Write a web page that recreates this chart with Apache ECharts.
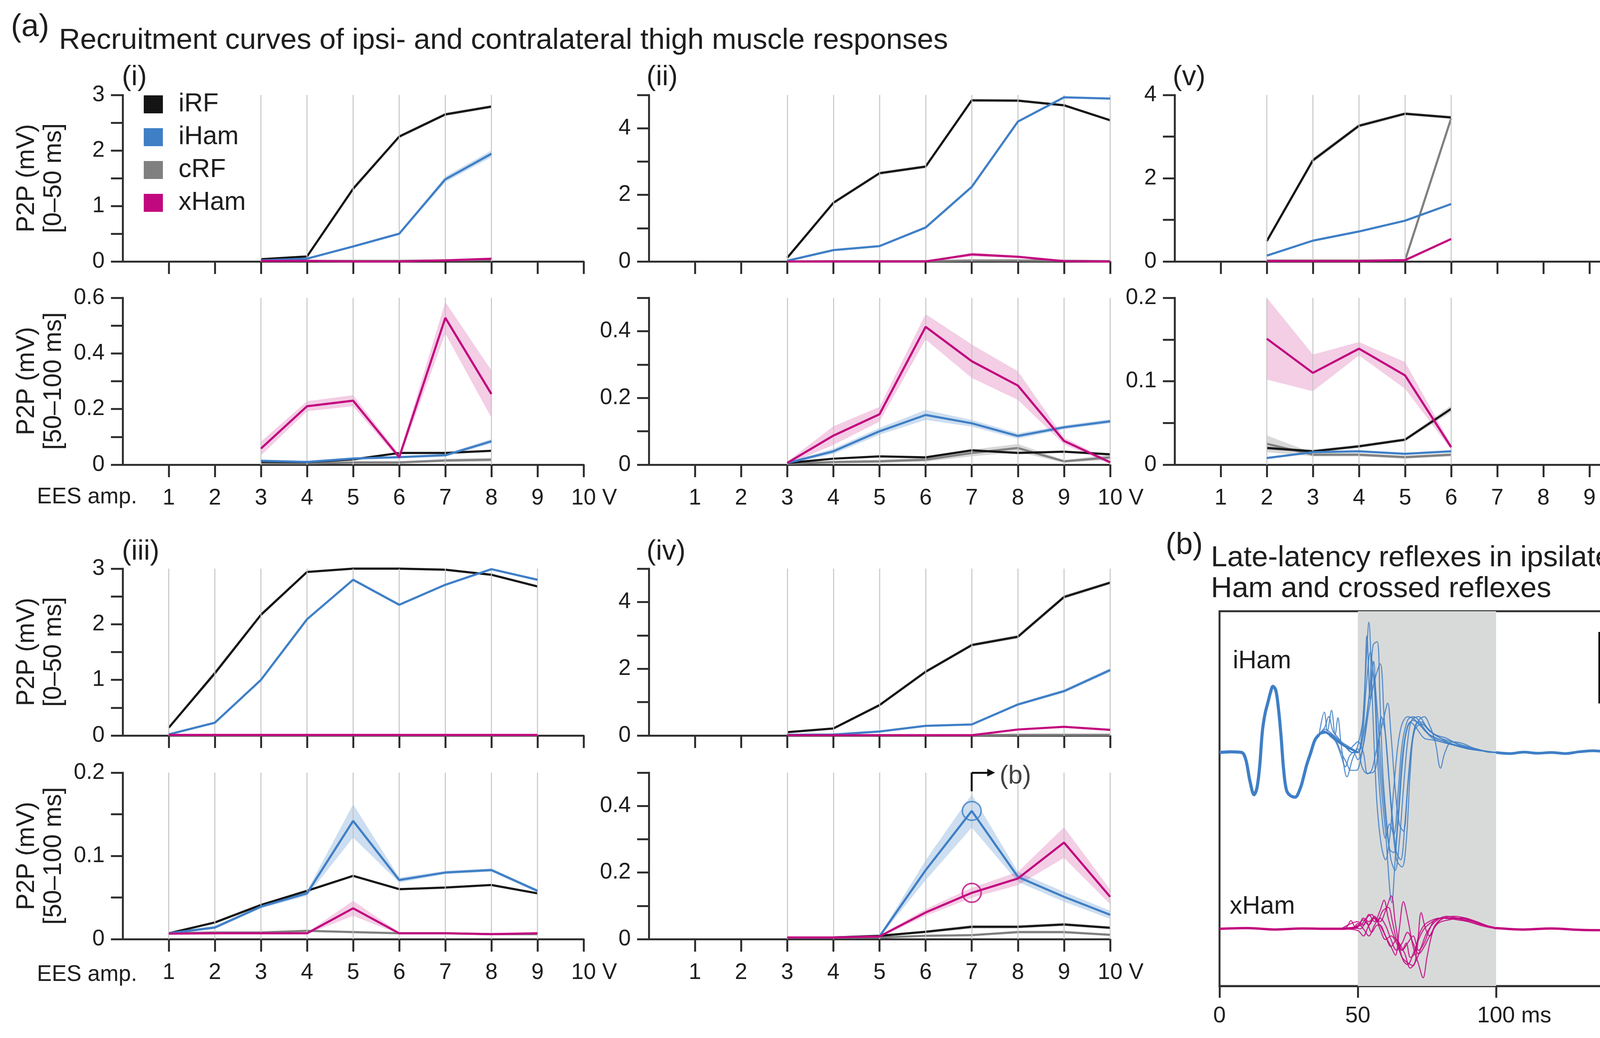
<!DOCTYPE html>
<html><head><meta charset="utf-8">
<script src="https://cdn.jsdelivr.net/npm/echarts@6/dist/echarts.min.js"></script>
<style>html,body{margin:0;padding:0;background:#fff;overflow:hidden}#c{width:4299px;height:2656px}</style>
</head><body><div id="c"></div>
<script>
// ---------------- DATA ----------------
const seriesNames = ['iRF','iHam','cRF','xHam'];
const xTickValues = [1,2,3,4,5,6,7,8,9,10];

// Panel (i)
const amp_i = [3,4,5,6,7,8];
const i_top_iRF  = [0.04,0.09,1.31,2.25,2.65,2.79];
const i_top_iHam = [0.02,0.05,0.27,0.50,1.48,1.94];
const i_top_cRF  = [0.01,0.01,0.01,0.01,0.02,0.03];
const i_top_xHam = [0.01,0.01,0.0,0.0,0.02,0.05];
const i_top_iRF_err  = [0.01,0.02,0.04,0.03,0.03,0.03];
const i_top_iHam_err = [0.01,0.01,0.02,0.02,0.05,0.06];
const i_bot_iRF  = [0.011,0.009,0.019,0.042,0.042,0.05];
const i_bot_iHam = [0.014,0.01,0.022,0.027,0.034,0.084];
const i_bot_cRF  = [0.005,0.005,0.008,0.008,0.015,0.018];
const i_bot_xHam = [0.058,0.21,0.23,0.027,0.528,0.254];
const i_bot_xHam_err = [0.025,0.018,0.02,0.01,0.057,0.085];
const i_bot_iHam_err = [0.004,0.003,0.004,0.004,0.005,0.008];
const i_bot_cRF_err  = [0.003,0.003,0.004,0.004,0.006,0.007];

// Panel (ii)
const amp_ii = [3,4,5,6,7,8,9,10];
const ii_top_iRF  = [0.11,1.76,2.65,2.85,4.84,4.83,4.69,4.24];
const ii_top_iHam = [0.02,0.34,0.46,1.02,2.24,4.20,4.93,4.89];
const ii_top_cRF  = [0.0,0.01,0.01,0.01,0.03,0.03,0.02,0.01];
const ii_top_xHam = [0.0,0.0,0.0,0.0,0.21,0.14,0.01,0.0];
const ii_top_xHam_err = [0,0,0,0,0.06,0.03,0.01,0];
const ii_top_iRF_err  = [0.02,0.05,0.05,0.05,0.04,0.04,0.04,0.04];
const ii_bot_iRF  = [0.005,0.018,0.025,0.022,0.043,0.035,0.039,0.031];
const ii_bot_iHam = [0.005,0.04,0.1,0.149,0.124,0.086,0.112,0.13];
const ii_bot_cRF  = [0.003,0.008,0.01,0.015,0.035,0.05,0.01,0.022];
const ii_bot_xHam = [0.005,0.087,0.151,0.413,0.31,0.237,0.071,0.007];
const ii_bot_xHam_err = [0.004,0.028,0.022,0.038,0.05,0.043,0.01,0.005];
const ii_bot_iHam_err = [0.003,0.008,0.01,0.015,0.01,0.008,0.006,0.006];
const ii_bot_cRF_err  = [0.002,0.004,0.005,0.006,0.01,0.012,0.004,0.008];

// Panel (v)
const amp_v = [2,3,4,5,6];
const v_top_iRF  = [0.49,2.43,3.26,3.55,3.46];
const v_top_iHam = [0.14,0.50,0.72,0.98,1.38];
const v_top_cRF  = [0.02,0.02,0.02,0.03,3.44];
const v_top_xHam = [0.01,0.01,0.01,0.03,0.54];
const v_top_iRF_err = [0.05,0.06,0.05,0.04,0.04];
const v_bot_iRF  = [0.02,0.016,0.022,0.030,0.067];
const v_bot_iHam = [0.008,0.015,0.016,0.013,0.016];
const v_bot_cRF  = [0.025,0.012,0.012,0.009,0.012];
const v_bot_xHam = [0.151,0.11,0.139,0.107,0.021];
const v_bot_xHam_err = [0.049,0.022,0.008,0.016,0.003];
const v_bot_cRF_err  = [0.01,0.002,0.002,0.002,0.002];
const v_bot_iRF_err  = [0.002,0.002,0.002,0.002,0.004];

// Panel (iii)
const amp_iii = [1,2,3,4,5,6,7,8,9];
const iii_top_iRF  = [0.14,1.12,2.17,2.94,3.0,3.0,2.98,2.89,2.68];
const iii_top_iHam = [0.02,0.23,1.0,2.09,2.80,2.35,2.71,2.99,2.80];
const iii_top_cRF  = [0.005,0.005,0.005,0.005,0.005,0.005,0.005,0.005,0.005];
const iii_top_xHam = [0.01,0.01,0.01,0.01,0.01,0.01,0.01,0.01,0.01];
const iii_top_iRF_err = [0.02,0.05,0.03,0.02,0.02,0.02,0.02,0.02,0.02];
const iii_bot_iRF  = [0.007,0.02,0.041,0.058,0.076,0.06,0.062,0.065,0.055];
const iii_bot_iHam = [0.007,0.014,0.039,0.055,0.142,0.071,0.08,0.083,0.058];
const iii_bot_cRF  = [0.007,0.008,0.008,0.01,0.0085,0.007,0.007,0.006,0.006];
const iii_bot_xHam = [0.0066,0.007,0.007,0.007,0.037,0.007,0.007,0.006,0.007];
const iii_bot_iHam_err = [0.001,0.002,0.002,0.003,0.02,0.003,0.002,0.002,0.002];
const iii_bot_xHam_err = [0.001,0.001,0.001,0.001,0.009,0.001,0.001,0.001,0.001];

// Panel (iv)
const amp_iv = [3,4,5,6,7,8,9,10];
const iv_top_iRF  = [0.1,0.21,0.91,1.91,2.71,2.96,4.15,4.58];
const iv_top_iHam = [0.02,0.03,0.12,0.29,0.33,0.93,1.33,1.96];
const iv_top_cRF  = [0.01,0.01,0.01,0.01,0.01,0.02,0.02,0.02];
const iv_top_xHam = [0.01,0.01,0.01,0.01,0.01,0.18,0.26,0.17];
const iv_top_iRF_err  = [0.02,0.03,0.04,0.05,0.05,0.06,0.06,0.05];
const iv_top_iHam_err = [0.01,0.01,0.02,0.02,0.02,0.04,0.05,0.06];
const iv_bot_iRF  = [0.005,0.005,0.01,0.022,0.037,0.037,0.044,0.034];
const iv_bot_iHam = [0.005,0.005,0.008,0.207,0.385,0.187,0.127,0.073];
const iv_bot_cRF  = [0.004,0.004,0.005,0.01,0.012,0.021,0.021,0.013];
const iv_bot_xHam = [0.005,0.005,0.008,0.08,0.139,0.182,0.29,0.127];
const iv_bot_iHam_err = [0.002,0.002,0.003,0.03,0.05,0.015,0.015,0.012];
const iv_bot_xHam_err = [0.002,0.002,0.003,0.01,0.015,0.02,0.046,0.022];
const iv_bot_iRF_err  = [0.001,0.001,0.002,0.004,0.006,0.005,0.005,0.004];
const iv_bot_cRF_err  = [0.001,0.001,0.001,0.002,0.003,0.004,0.004,0.003];
const highlightAmp = 7;

// Y-axis ranges and tick labels per grid (i top, i bottom, ii top, ii bottom, v top, v bottom, iii top, iii bottom, iv top, iv bottom)
const yMax       = [3, 0.6, 5, 0.5, 4, 0.2, 3, 0.2, 5, 0.5];
const yInterval  = [0.5, 0.1, 1, 0.1, 1, 0.05, 0.5, 0.05, 1, 0.1];
const yTickLabels = [[0,1,2,3],[0,0.2,0.4,0.6],[0,2,4],[0,0.2,0.4],[0,2,4],[0,0.1,0.2],[0,1,2,3],[0,0.1,0.2],[0,2,4],[0,0.2,0.4]];

// Panel (b): single-trial traces, [time ms, mV]
const traceTicks = [0,50,100];
const windowMs = [50,100];
const iHamEarly = [[0,0],[4,0.002],[8,0.0],[9.5,-0.02],[11,-0.08],[12.5,-0.118],[13.5,-0.1],[14.5,-0.04],[15.5,0.06],[16.5,0.11],[17.5,0.14],[18.5,0.17],[19.3,0.185],[20.3,0.175],[21.2,0.13],[22.2,0.05],[23.2,-0.05],[24.2,-0.105],[25.5,-0.12],[27.3,-0.125],[29.2,-0.1],[30.5,-0.065],[31.5,-0.035],[33,0.0],[34.5,0.035],[36,0.05]];
const iHamMid = [[36,0.05],[37.5,0.058],[40,0.05],[43,0.03],[46,0.015],[48,0.008],[50,0.0]];
const iHamLateA = [[36,0.05],[37.5,0.058],[40,0.05],[43,0.03],[46,0.015],[48,0.01],[50,0.0],[51.5,0.06],[53,0.25],[54,0.364],[55,0.2],[56,0.0],[57,-0.15],[58.5,-0.26],[60,-0.3],[61.5,-0.24],[63,-0.1],[64.5,0.02],[66,0.08],[68,0.1],[70,0.095],[72,0.08],[75,0.055],[78,0.04],[82,0.03],[86,0.02],[90,0.012],[95,0.005],[100,0.0]];
const iHamLateB = [[36,0.05],[37.9,0.113],[39,0.06],[40.5,0.118],[41.8,0.05],[42.8,0.097],[44,0.02],[46.1,-0.068],[48,-0.02],[50,0.02],[52,0.1],[53.3,0.326],[54.5,0.15],[55.7,0.255],[57,0.05],[58.5,-0.1],[60,-0.22],[62.3,-0.42],[63.5,-0.3],[65,-0.15],[66.5,0.0],[68,0.07],[70,0.09],[73,0.075],[76,0.05],[80,0.035],[85,0.02],[90,0.012],[96,0.004],[100,0.0]];
const iHamLateC = [[36,0.05],[38,0.06],[40,0.045],[42,0.03],[44,-0.01],[45.5,-0.04],[47,-0.01],[48.5,0.0],[50,-0.02],[52,0.02],[54,0.12],[56,0.2],[58.1,0.248],[59.5,0.1],[61,-0.05],[62.5,-0.18],[64,-0.28],[65.5,-0.3],[67,-0.2],[68.5,-0.05],[70,0.05],[72,0.09],[74,0.1],[76,0.075],[78,0.03],[79.9,-0.044],[81.5,0.0],[84,0.03],[88,0.025],[92,0.012],[97,0.003],[100,0.0]];
const iHamLateD = [[36,0.05],[38,0.07],[39.5,0.1],[41,0.06],[43,0.04],[45,0.02],[47,0.01],[48.5,0.02],[50,0.03],[52,0.0],[53.5,-0.06],[55,-0.05],[56.5,0.0],[58,0.05],[59.5,0.1],[60.8,0.138],[62,0.05],[63.5,-0.1],[65,-0.2],[66.5,-0.22],[68,-0.1],[69.5,0.02],[71,0.08],[73,0.085],[76,0.06],[80,0.04],[84,0.03],[88,0.02],[93,0.01],[98,0.0],[100,0.0]];
const iHamLateE = [[36,0.05],[38,0.055],[40,0.05],[42,0.035],[44,0.0],[46,-0.03],[47.5,-0.05],[49.5,-0.05],[51,-0.02],[52.5,0.05],[54,0.15],[55.5,0.22],[57,0.12],[58.5,-0.05],[60,-0.18],[61.5,-0.27],[63,-0.28],[64.5,-0.18],[66,-0.02],[67.5,0.06],[69,0.085],[71,0.07],[74,0.04],[77,0.035],[80,0.03],[85,0.02],[90,0.01],[95,0.005],[100,0.0]];
const iHamLateF = [[36,0.05],[38,0.058],[40,0.052],[43,0.032],[46,0.012],[48,0.0],[50,0.0],[51.5,0.03],[53,0.18],[54.5,0.28],[56,0.18],[57,0.0],[58.5,-0.16],[60,-0.24],[61.5,-0.2],[63,-0.23],[64.5,-0.12],[66,0.02],[68,0.09],[70,0.1],[72,0.09],[74.5,0.06],[77,0.04],[80,0.03],[85,0.02],[90,0.01],[100,0.0]];
const iHamLateG = [[36,0.05],[39,0.055],[42,0.04],[45,0.02],[48,0.0],[50,0.01],[51.5,-0.04],[53.3,-0.058],[55.7,-0.055],[57,-0.02],[58.5,0.1],[60,0.05],[62,-0.15],[64,-0.3],[66,-0.32],[67.5,-0.25],[69,-0.05],[70.5,0.06],[73,0.08],[76,0.06],[80,0.04],[85,0.02],[92,0.008],[100,0.0]];
const iHamLateH = [[36,0.05],[38,0.065],[41,0.05],[44,0.03],[46,0.02],[48,0.01],[50,0.0],[52,0.05],[54,0.15],[55.5,0.3],[57,0.31],[58,0.15],[59,-0.05],[60.5,-0.2],[62,-0.3],[63.5,-0.33],[65,-0.25],[66.5,-0.1],[68,0.03],[69.5,0.09],[72,0.1],[75,0.07],[78,0.05],[82,0.04],[87,0.02],[93,0.008],[100,0.0]];
const iHamTail = [[100,0.0],[105,-0.003],[110,0.001],[115,-0.002],[120,0.0],[125,-0.003],[130,0.002],[135,0.005],[140,0.002],[145,-0.002],[150,0.001]];
const xHamEarly = [[0,0.0],[10,0.002],[20,-0.002],[30,0.001],[40,0.0],[44,0.0],[48,0.002],[50,0.004]];
const xHamLate1 = [[44,0],[47,0.0],[50,0.01],[52,0.025],[54,0.01],[56,0.03],[58,0.02],[60,0.05],[62.1,0.092],[63.5,0.02],[65,-0.05],[66.5,-0.09],[68,-0.1],[70,-0.07],[72,-0.03],[74,0.0],[77,0.02],[80,0.03],[84,0.03],[88,0.025],[92,0.02],[96,0.01],[100,0.003]];
const xHamLate2 = [[44,0],[46,0.005],[47.5,0.023],[49,0.005],[51,0.0],[53,0.02],[55,-0.01],[57,0.01],[58,0.01],[60,-0.02],[62,-0.05],[63.6,-0.074],[65,0.0],[66.5,0.076],[68,0.03],[70,-0.05],[72,-0.1],[73.6,-0.137],[75,-0.08],[77,-0.01],[79,0.02],[82,0.03],[86,0.03],[90,0.025],[94,0.015],[98,0.005],[100,0.0]];
const xHamLate3 = [[44,0],[50,0.005],[52,0.03],[54,0.02],[56,0.035],[58,0.0],[60,-0.03],[62,-0.02],[64,-0.04],[66,-0.08],[68,-0.095],[70,-0.103],[71.5,-0.05],[72.9,0.045],[74.5,0.0],[76,-0.02],[78,0.01],[81,0.03],[85,0.035],[89,0.03],[93,0.02],[97,0.008],[100,0.0]];
const xHamLate4 = [[44,0],[50,-0.005],[52,-0.02],[54,0.01],[56,0.03],[58,0.01],[60,-0.02],[62,-0.05],[64,-0.03],[66,-0.06],[68,-0.04],[70,-0.02],[72,-0.06],[74,-0.04],[76,0.0],[78,0.025],[82,0.03],[86,0.025],[90,0.02],[95,0.01],[100,0.002]];
const xHamLate5 = [[44,0],[51,0.01],[53,0.03],[55,0.04],[57,0.02],[59,0.05],[61,0.06],[62.5,0.02],[64,-0.03],[66,-0.06],[67.5,-0.04],[69,-0.08],[70.5,-0.07],[72,-0.02],[74,0.01],[77,0.025],[80,0.03],[84,0.028],[88,0.03],[92,0.02],[96,0.01],[100,0.002]];
const xHamLate6 = [[44,0],[50,0.02],[52,0.01],[54,0.04],[56,0.02],[58,0.05],[59.5,0.08],[61,0.03],[63,-0.02],[65,-0.04],[67,-0.07],[69,-0.11],[71,-0.09],[73,-0.05],[75,-0.01],[78,0.02],[82,0.035],[86,0.03],[90,0.02],[95,0.008],[100,0.0]];
const xHamLate7 = [[44,0],[48,0.0],[50,0.015],[52,0.0],[54,-0.02],[56,0.01],[58,0.03],[60,0.01],[62,-0.03],[64,-0.06],[66,-0.04],[68,-0.01],[70,-0.04],[72,-0.07],[74,-0.05],[76,-0.02],[79,0.015],[83,0.025],[88,0.03],[92,0.02],[97,0.008],[101,0.0]];
const xHamTail = [[100,0.002],[110,-0.002],[120,0.001],[130,-0.003],[140,-0.004],[150,-0.002]];
const scaleBar = {t: 137.3, from: 0.137, len: 0.2};

// ---------------- STYLE ----------------
const FONT = "'Liberation Sans', Arial, Helvetica, sans-serif";
const C = {iRF:'#141414', iHam:'#3f7fc6', cRF:'#808080', xHam:'#c2087f'};
const BAND = {iRF:'rgba(0,0,0,0.14)', iHam:'rgba(63,127,198,0.26)', cRF:'rgba(128,128,128,0.3)', xHam:'rgba(194,8,127,0.2)'};
const AX = '#303030', TXT = '#1e1e1e';
const xHamOffset = -0.493;
const yRangeB = [-0.653, 0.395];

const GRIDS = [
  {left:314, top:243, width:1180, height:426},
  {left:314, top:762, width:1180, height:427},
  {left:1661, top:243, width:1181, height:426},
  {left:1661, top:762, width:1181, height:427},
  {left:3007, top:243, width:1180, height:426},
  {left:3007, top:762, width:1180, height:427},
  {left:314, top:1455, width:1180, height:427},
  {left:314, top:1977, width:1180, height:426},
  {left:1661, top:1455, width:1181, height:427},
  {left:1661, top:1977, width:1181, height:426},
  {left:3122, top:1564, width:1062, height:959, show:true, borderColor:AX, borderWidth:5}
];

const PANELS = [
  {g:0, xs:amp_i, d:{cRF:i_top_cRF, iRF:i_top_iRF, iHam:i_top_iHam, xHam:i_top_xHam}, e:{iRF:i_top_iRF_err, iHam:i_top_iHam_err}},
  {g:1, xs:amp_i, d:{cRF:i_bot_cRF, iRF:i_bot_iRF, iHam:i_bot_iHam, xHam:i_bot_xHam}, e:{cRF:i_bot_cRF_err, iHam:i_bot_iHam_err, xHam:i_bot_xHam_err}},
  {g:2, xs:amp_ii, d:{cRF:ii_top_cRF, iRF:ii_top_iRF, iHam:ii_top_iHam, xHam:ii_top_xHam}, e:{iRF:ii_top_iRF_err, xHam:ii_top_xHam_err}},
  {g:3, xs:amp_ii, d:{cRF:ii_bot_cRF, iRF:ii_bot_iRF, iHam:ii_bot_iHam, xHam:ii_bot_xHam}, e:{cRF:ii_bot_cRF_err, iHam:ii_bot_iHam_err, xHam:ii_bot_xHam_err}},
  {g:4, xs:amp_v, d:{cRF:v_top_cRF, iRF:v_top_iRF, iHam:v_top_iHam, xHam:v_top_xHam}, e:{iRF:v_top_iRF_err}},
  {g:5, xs:amp_v, d:{cRF:v_bot_cRF, iRF:v_bot_iRF, iHam:v_bot_iHam, xHam:v_bot_xHam}, e:{cRF:v_bot_cRF_err, iRF:v_bot_iRF_err, xHam:v_bot_xHam_err}},
  {g:6, xs:amp_iii, d:{cRF:iii_top_cRF, iRF:iii_top_iRF, iHam:iii_top_iHam, xHam:iii_top_xHam}, e:{iRF:iii_top_iRF_err}},
  {g:7, xs:amp_iii, d:{cRF:iii_bot_cRF, iRF:iii_bot_iRF, iHam:iii_bot_iHam, xHam:iii_bot_xHam}, e:{iHam:iii_bot_iHam_err, xHam:iii_bot_xHam_err}},
  {g:8, xs:amp_iv, d:{cRF:iv_top_cRF, iRF:iv_top_iRF, iHam:iv_top_iHam, xHam:iv_top_xHam}, e:{iRF:iv_top_iRF_err, iHam:iv_top_iHam_err}},
  {g:9, xs:amp_iv, d:{cRF:iv_bot_cRF, iRF:iv_bot_iRF, iHam:iv_bot_iHam, xHam:iv_bot_xHam}, e:{cRF:iv_bot_cRF_err, iRF:iv_bot_iRF_err, iHam:iv_bot_iHam_err, xHam:iv_bot_xHam_err}}
];

const fmtNum = v => String(Math.round(v*1000)/1000);
const axisLineS = {show:true, onZero:false, lineStyle:{color:AX, width:5}};
const tickS = {color:AX, width:5};

const xAxes = [], yAxes = [];
for (let g = 0; g < 10; g++) {
  const bottom = g % 2 === 1;
  xAxes.push({
    gridIndex:g, type:'value', min:0, max:10, interval:1,
    axisLine:axisLineS,
    axisTick:{show:true, customValues:xTickValues, length:32, lineStyle:tickS},
    axisLabel: bottom ? {
      show:true, customValues:xTickValues, margin:58, fontSize:57, color:TXT, fontFamily:FONT,
      formatter: v => v === 10 ? '{u|10 V}' : String(v),
      rich:{u:{fontSize:57, color:TXT, fontFamily:FONT, padding:[0,0,0,54]}}
    } : {show:false},
    splitLine:{show:false}
  });
  yAxes.push({
    gridIndex:g, type:'value', min:0, max:yMax[g], interval:yInterval[g],
    axisLine:axisLineS,
    axisTick:{show:true, length:30, lineStyle:tickS},
    axisLabel:{show:true, customValues:yTickLabels[g], formatter:fmtNum, margin:46, fontSize:57, color:TXT, fontFamily:FONT},
    splitLine:{show:false}
  });
}
xAxes.push({
  gridIndex:10, type:'value', min:0, max:150, interval:50,
  axisLine:axisLineS,
  axisTick:{show:true, customValues:traceTicks, length:30, lineStyle:tickS},
  axisLabel:{show:true, customValues:traceTicks, margin:48, fontSize:58, color:TXT, fontFamily:FONT,
    formatter: v => v === 100 ? '{u|100 ms}' : String(v),
    rich:{u:{fontSize:58, color:TXT, fontFamily:FONT, padding:[0,0,0,93]}}},
  splitLine:{show:false}
});
yAxes.push({gridIndex:10, type:'value', min:yRangeB[0], max:yRangeB[1], show:false, splitLine:{show:false}});

const series = [];
function bandSeries(g, xs, mean, err, color) {
  const rows = xs.map((x,i) => [x, Math.max(mean[i]-err[i], 0), mean[i]+err[i]]);
  return {
    type:'custom', xAxisIndex:g, yAxisIndex:g, z:2, silent:true, clip:false,
    data: rows, encode:{x:0, y:[1,2]},
    renderItem: (params, api) => {
      if (params.dataIndex !== 0) return null;
      const up = rows.map(r => api.coord([r[0], r[2]]));
      const lo = rows.map(r => api.coord([r[0], r[1]])).reverse();
      return {type:'polygon', shape:{points: up.concat(lo)}, style:{fill: color}};
    }
  };
}
PANELS.forEach(p => {
  series.push({
    type:'line', xAxisIndex:p.g, yAxisIndex:p.g, data: p.xs.map(x => [x, 0]), silent:true, z:1,
    symbol:'none', lineStyle:{opacity:0},
    markLine:{silent:true, symbol:['none','none'], label:{show:false}, animation:false,
      lineStyle:{color:'#c2c2c2', width:2.4, type:'solid'},
      data: p.xs.map(x => ({xAxis:x}))}
  });
  Object.keys(p.e).forEach(k => series.push(bandSeries(p.g, p.xs, p.d[k], p.e[k], BAND[k])));
  ['cRF','iRF','iHam','xHam'].forEach((k, j) => {
    series.push({
      type:'line', name:k, xAxisIndex:p.g, yAxisIndex:p.g, color:C[k],
      data: p.xs.map((x,i) => [x, p.d[k][i]]),
      symbol:'none', showSymbol:false, clip:false, silent:true, z:3+j,
      lineStyle:{width:5.5, color:C[k]}
    });
  });
});

// (iv) highlight circles + arrow to (b)
const hi = amp_iv.indexOf(highlightAmp);
series.push({type:'scatter', xAxisIndex:9, yAxisIndex:9, z:10, silent:true,
  data:[[highlightAmp, iv_bot_iHam[hi]]], symbol:'circle', symbolSize:48,
  itemStyle:{color:'rgba(0,0,0,0)', borderColor:C.iHam, borderWidth:4}});
series.push({type:'scatter', xAxisIndex:9, yAxisIndex:9, z:10, silent:true,
  data:[[highlightAmp, iv_bot_xHam[hi]]], symbol:'circle', symbolSize:48,
  itemStyle:{color:'rgba(0,0,0,0)', borderColor:C.xHam, borderWidth:4}});
series.push({type:'line', xAxisIndex:9, yAxisIndex:9, data:[], silent:true, z:10,
  markLine:{silent:true, animation:false, label:{show:false}, symbol:['none','none'],
    lineStyle:{color:'#111', width:5, type:'solid'},
    data:[
      [{coord:[highlightAmp, 0.444], symbol:'none'}, {coord:[highlightAmp, 0.5], symbol:'none'}],
      [{coord:[highlightAmp, 0.5], symbol:'none'}, {coord:[7.42, 0.5], symbol:'triangle', symbolSize:[20,20]}]
    ]}});
series.push({type:'scatter', xAxisIndex:9, yAxisIndex:9, z:10, silent:true,
  data:[[7.6, 0.488]], symbolSize:1, itemStyle:{color:'rgba(0,0,0,0)'},
  label:{show:true, formatter:'(b)', position:'right', distance:0, fontSize:66, color:'#111', fontFamily:FONT}});

// (b) traces
series.push({type:'line', xAxisIndex:10, yAxisIndex:10, data:[[0,0]], silent:true, z:1, symbol:'none', lineStyle:{opacity:0},
  markArea:{silent:true, itemStyle:{color:'#d8dada'}, data:[[{xAxis:windowMs[0]},{xAxis:windowMs[1]}]]}});
function trace(arr, color, width, off, opacity) {
  return {type:'line', xAxisIndex:10, yAxisIndex:10, silent:true, z:4, symbol:'none', smooth:0.35, clip:true,
    data: arr.map(p => [p[0], p[1] + off]), lineStyle:{color, width, opacity}};
}
series.push(trace(iHamEarly, C.iHam, 8, 0, 1));
series.push(trace(iHamMid, C.iHam, 6, 0, 1));
[iHamLateA,iHamLateB,iHamLateC,iHamLateD,iHamLateE,iHamLateF,iHamLateG,iHamLateH].forEach(a => series.push(trace(a, C.iHam, 2.8, 0, 0.85)));
series.push(trace(iHamTail, C.iHam, 7, 0, 1));
series.push(trace(xHamEarly, C.xHam, 6, xHamOffset, 1));
[xHamLate1,xHamLate2,xHamLate3,xHamLate4,xHamLate5,xHamLate6,xHamLate7].forEach(a => series.push(trace(a, C.xHam, 2.8, xHamOffset, 0.85)));
series.push(trace(xHamTail, C.xHam, 6, xHamOffset, 1));
series.push({type:'line', xAxisIndex:10, yAxisIndex:10, silent:true, z:6, symbol:'none', clip:false,
  data:[[scaleBar.t, scaleBar.from],[scaleBar.t, scaleBar.from + scaleBar.len]], lineStyle:{color:'#111', width:4.5}});

// ---------------- TEXT ----------------
function txt(text, x, y, size, align, extra, lh) {
  return Object.assign({type:'text', x, y, silent:true, z:100,
    style:{text, fontSize:size, fontFamily:FONT, fill:TXT, align, textAlign:align, verticalAlign:'middle', textVerticalAlign:'middle', lineHeight: lh || size*1.1}}, extra || {});
}
const ROT = {rotation: Math.PI/2};
const graphic = [
  txt('(a)', 28, 70, 80, 'left'),
  txt('Recruitment curves of ipsi- and contralateral thigh muscle responses', 151, 104, 75, 'left'),
  txt('(i)', 312, 198, 72, 'left'),
  txt('(ii)', 1655, 198, 72, 'left'),
  txt('(v)', 3002, 198, 72, 'left'),
  txt('(iii)', 312, 1412, 72, 'left'),
  txt('(iv)', 1655, 1412, 72, 'left'),
  txt('P2P (mV)\n[0–50 ms]', 104, 456, 64, 'center', ROT, 69),
  txt('P2P (mV)\n[50–100 ms]', 104, 975, 64, 'center', ROT, 69),
  txt('P2P (mV)\n[0–50 ms]', 104, 1668, 64, 'center', ROT, 69),
  txt('P2P (mV)\n[50–100 ms]', 104, 2190, 64, 'center', ROT, 69),
  txt('EES amp.', 351, 1272, 57, 'right'),
  txt('EES amp.', 351, 2494, 57, 'right'),
  txt('(b)', 2984, 1396, 78, 'left'),
  txt('Late-latency reflexes in ipsilateral\nHam and crossed reflexes', 3100, 1468, 75, 'left', null, 79),
  txt('iHam', 3156, 1692, 64, 'left'),
  txt('xHam', 3148, 2320, 64, 'left'),
  txt('0.2 mV', 4137, 1708, 57, 'center', ROT)
];

const option = {
  animation:false,
  backgroundColor:'#ffffff',
  textStyle:{fontFamily:FONT},
  grid: GRIDS,
  xAxis: xAxes,
  yAxis: yAxes,
  legend:{data:seriesNames, orient:'vertical', left:368, top:234, padding:0, icon:'rect',
    itemWidth:49, itemHeight:46, itemGap:18, selectedMode:false,
    textStyle:{fontSize:66, color:TXT, fontFamily:FONT, padding:[0,0,0,35]}},
  graphic: graphic,
  series: series
};
const chart = echarts.init(document.getElementById('c'), null, {renderer:'canvas'});
chart.setOption(option);
</script></body></html>
